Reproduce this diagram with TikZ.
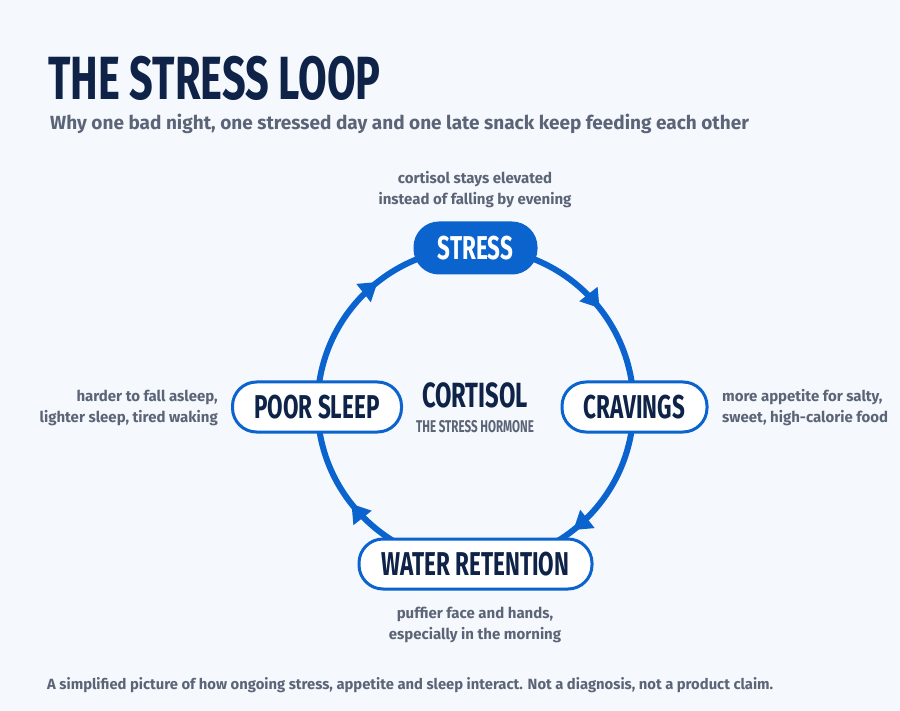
\documentclass[tikz,border=0pt]{standalone}
\usepackage{fontspec}
\setmainfont{Fira Sans}
\newfontfamily\condf[FakeStretch=0.68]{Fira Sans}
\usetikzlibrary{arrows.meta,decorations.markings,backgrounds}
\definecolor{bg}{HTML}{F5F8FC}
\definecolor{navy}{HTML}{0E2347}
\definecolor{greytext}{HTML}{5B6577}
\definecolor{loopblue}{HTML}{0B63CE}
\begin{document}
\begin{tikzpicture}[x=1pt,y=-1pt,
  pill/.style={draw=loopblue, line width=3pt, fill=white, rounded corners=24pt,
    minimum height=50pt, inner sep=0pt, text=navy,
    font=\condf\bfseries\fontsize{33}{33}\selectfont},
  note/.style={font=\bfseries\fontsize{15}{21}\selectfont, text=greytext, inner sep=0pt},
  looparc/.style={draw=loopblue, line width=6pt, postaction=decorate,
    decoration={markings, mark=at position 0.575 with {\arrow[loopblue]{Triangle[length=18pt,width=22pt]}}}}]
\useasboundingbox (0,0) rectangle (900,711);
% title
\node[anchor=base west, inner sep=0pt, text=navy, font=\condf\bfseries\fontsize{61}{61}\selectfont] (title) at (48,100) {THE STRESS LOOP};
\node[anchor=base west, inner sep=0pt, text=greytext, font=\bfseries\fontsize{19}{19}\selectfont] (subtitle) at (50,130) {Why one bad night, one stressed day and one late snack keep feeding each other};
% loop nodes
\node[pill, fill=loopblue, draw=loopblue, text=white, minimum width=121pt] (stress) at (475.5,248) {STRESS};
\node[pill, minimum width=145pt] (cravings) at (634.5,407) {CRAVINGS};
\node[pill, minimum width=233pt] (water) at (475.5,564) {WATER RETENTION};
\node[pill, minimum width=169pt] (sleep) at (317,407) {POOR SLEEP};
% centre
\node[anchor=base, inner sep=0pt, text=navy, font=\condf\bfseries\fontsize{35}{35}\selectfont] (cortisol) at (475,407) {CORTISOL};
\node[anchor=base, inner sep=0pt, text=greytext, font=\condf\bfseries\fontsize{17}{17}\selectfont] (hormone) at (475,432) {THE STRESS HORMONE};
% notes (base anchor = last line)
\node[note, anchor=base, align=center] (nstress) at (475,205) {cortisol stays elevated\\instead of falling by evening};
\node[note, anchor=base east, align=right] (nsleep) at (218,422) {harder to fall asleep,\\lighter sleep, tired waking};
\node[note, anchor=base west, align=left] (ncrav) at (722,422) {more appetite for salty,\\sweet, high-calorie food};
\node[note, anchor=base, align=center] (nwater) at (475,639) {puffier face and hands,\\especially in the morning};
% footer
\node[anchor=base west, inner sep=0pt, text=greytext, font=\bfseries\fontsize{14.8}{14.8}\selectfont] (footer) at (47,689) {A simplified picture of how ongoing stress, appetite and sleep interact. Not a diagnosis, not a product claim.};
% loop
\begin{pgfonlayer}{background}
  \fill[bg] (0,0) rectangle (900,711);
  \coordinate (aS) at (475.5,248);
  \draw[looparc] (aS) arc[start angle=270, end angle=360, radius=158] coordinate (aC);
  \draw[looparc] (aC) arc[start angle=0, end angle=90, radius=158] coordinate (aW);
  \draw[looparc] (aW) arc[start angle=90, end angle=180, radius=158] coordinate (aP);
  \draw[looparc] (aP) arc[start angle=180, end angle=270, radius=158];
\end{pgfonlayer}
\end{tikzpicture}
\end{document}
